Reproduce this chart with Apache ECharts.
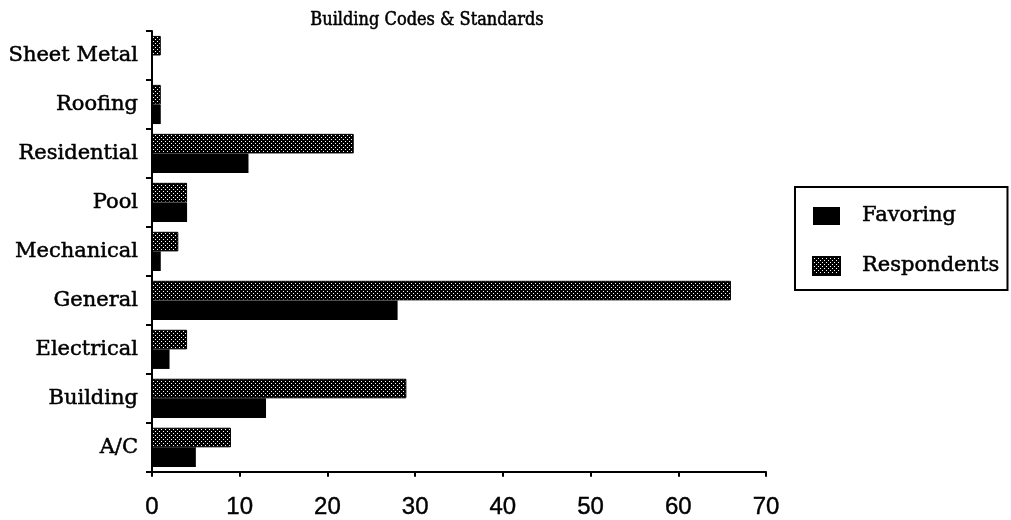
<!DOCTYPE html>
<html><head><meta charset="utf-8">
<script src="https://cdn.jsdelivr.net/npm/echarts@6/dist/echarts.min.js"></script>
<style>html,body{margin:0;padding:0;background:#fff}#c{width:1011px;height:520px}</style>
</head><body><div id="c"></div>
<script>
const categories = ['A/C','Building','Electrical','General','Mechanical','Pool','Residential','Roofing','Sheet Metal'];
const favoring = [5, 13, 2, 28, 1, 4, 11, 1, 0];
const respondents = [9, 29, 4, 66, 3, 4, 23, 1, 1];
const xTicks = [0, 10, 20, 30, 40, 50, 60, 70];

function dotPattern(){
  const c = document.createElement('canvas');
  c.width = 4; c.height = 4;
  const g = c.getContext('2d');
  g.fillStyle = '#000'; g.fillRect(0,0,4,4);
  g.fillStyle = '#fff';
  g.fillRect(1,1,1,1); g.fillRect(3,3,1,1);
  return c;
}
const pat = {image: dotPattern(), repeat: 'repeat'};
const wideSerif = '"DejaVu Serif", "Liberation Serif", serif';
const condSerif = '"DejaVu Serif Condensed", "DejaVu Serif", serif';

const chart = echarts.init(document.getElementById('c'), null, {renderer:'canvas'});
chart.setOption({
  animation: false,
  backgroundColor: '#fff',
  title: {text: 'Building Codes & Standards', left: 422, top: 6, textAlign: 'center',
    textStyle: {fontFamily: condSerif, fontSize: 18, fontWeight: 'normal', color: '#000',
      textBorderColor: '#000', textBorderWidth: 0.5}},
  grid: {left: 152, right: 245, top: 31, bottom: 47},
  legend: {
    orient: 'vertical', left: 795, top: 187,
    padding: [18, 8, 13, 17], itemGap: 28, itemWidth: 27, itemHeight: 18,
    borderColor: '#000', borderWidth: 2,
    icon: 'rect',
    textStyle: {fontFamily: wideSerif, fontSize: 21, lineHeight: 22, fontWeight: 'normal', color: '#000',
      padding:[0,0,0,17], textBorderColor: '#000', textBorderWidth: 0.5},
    data: ['Favoring', 'Respondents']
  },
  xAxis: {
    type: 'value', min: 0, max: 70, interval: 10,
    splitLine: {show: false},
    axisLine: {show: true, lineStyle: {color: '#000', width: 2}},
    axisTick: {show: true, inside: false, length: 5, lineStyle: {color: '#000', width: 2}},
    axisLabel: {fontFamily: '"Liberation Sans Narrow", "Liberation Sans", sans-serif', fontSize: 24, color: '#000', margin: 24,
      textBorderColor: '#000', textBorderWidth: 0.4,
      formatter: v => xTicks.includes(v) ? String(v) : ''}
  },
  yAxis: {
    type: 'category', data: categories,
    axisLine: {show: true, lineStyle: {color: '#000', width: 2}},
    axisTick: {show: true, length: 6, lineStyle: {color: '#000', width: 2}},
    axisLabel: {fontFamily: wideSerif, fontSize: 21, fontWeight: 'normal', color: '#000', margin: 14,
      textBorderColor: '#000', textBorderWidth: 0.5}
  },
  series: [
    {name: 'Respondents', type: 'bar', data: respondents, barGap: '0%', barCategoryGap: '20%',
      itemStyle: {color: pat, borderColor: '#000', borderWidth: 1}},
    {name: 'Favoring', type: 'bar', data: favoring, barGap: '0%', barCategoryGap: '20%',
      itemStyle: {color: '#000'}}
  ]
});
</script></body></html>
